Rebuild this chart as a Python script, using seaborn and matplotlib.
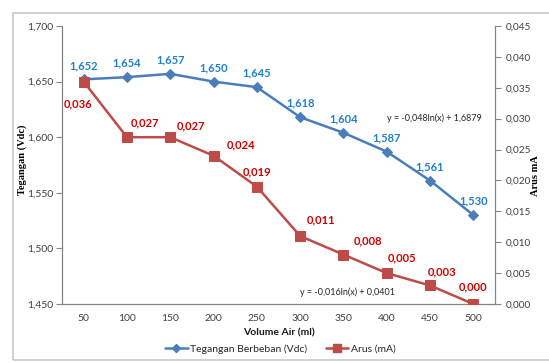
import matplotlib
matplotlib.use("Agg")
import matplotlib.pyplot as plt
import seaborn as sns
import pandas as pd
from matplotlib.ticker import FuncFormatter, FixedLocator
from matplotlib.patches import Rectangle
from matplotlib.lines import Line2D

volume = [50, 100, 150, 200, 250, 300, 350, 400, 450, 500]
tegangan = [1.652, 1.654, 1.657, 1.650, 1.645, 1.618, 1.604, 1.587, 1.561, 1.530]
arus = [0.036, 0.027, 0.027, 0.024, 0.019, 0.011, 0.008, 0.005, 0.003, 0.000]
eq_tegangan = "y = -0,048ln(x) + 1,6879"
eq_arus = "y = -0,016ln(x) + 0,0401"

# label offsets in points (dx, dy)
red_offsets = [(-4, -16), (13, 10), (15, 8), (20, 8), (0, 11), (15, 12), (18, 10), (11, 11), (9, 10), (0, 12)]

df = pd.DataFrame({"volume": volume, "tegangan": tegangan, "arus": arus})

sns.set_style("white")
plt.rcParams['font.family'] = ['Lato', 'DejaVu Sans']

fig = plt.figure(figsize=(5.49, 3.63), dpi=100)
W, H = 549, 363
ax = fig.add_axes([62 / W, 1 - 304 / H, (495 - 62) / W, (304 - 26) / H])
ax2 = ax.twinx()

blue = "#4A7EBB"
red = "#BE4B48"
blue_txt = "#1F7FD0"
red_txt = "#D00000"
tick_c = "#404040"
spine_c = "#868686"

sns.lineplot(data=df, x="volume", y="tegangan", ax=ax, color=blue, marker="D",
             markersize=5, markeredgecolor=blue, linewidth=1.8, legend=False)
sns.lineplot(data=df, x="volume", y="arus", ax=ax2, color=red, marker="s",
             markersize=7, markeredgecolor=red, linewidth=1.8, legend=False)

ax.set_xlim(25, 525)
ax.set_ylim(1.45, 1.70)
ax2.set_ylim(0, 0.045)
ax.set_yticks([1.45, 1.50, 1.55, 1.60, 1.65, 1.70])
ax2.set_yticks([0.000, 0.005, 0.010, 0.015, 0.020, 0.025, 0.030, 0.035, 0.040, 0.045])
ax.yaxis.set_major_formatter(FuncFormatter(lambda v, p: f"{v:.3f}".replace(".", ",")))
ax2.yaxis.set_major_formatter(FuncFormatter(lambda v, p: f"{v:.3f}".replace(".", ",")))

bounds = [v - 25 for v in volume] + [volume[-1] + 25]
ax.xaxis.set_major_locator(FixedLocator(bounds))
ax.xaxis.set_minor_locator(FixedLocator(volume))
ax.set_xticklabels([""] * len(bounds))
ax.set_xticklabels([str(v) for v in volume], minor=True)
ax.tick_params(axis="x", which="major", length=4, width=0.8, color=spine_c, direction="out")
ax.tick_params(axis="x", which="minor", length=0, labelsize=7.5, labelcolor=tick_c, pad=7)
ax.tick_params(axis="y", length=4, width=0.8, color=spine_c, labelsize=7.5, labelcolor=tick_c, pad=2, left=True)
ax2.tick_params(axis="y", length=4, width=0.8, color=spine_c, labelsize=7.2, labelcolor=tick_c, pad=4, right=True)

for a in (ax, ax2):
    a.grid(False)
    a.spines["top"].set_visible(False)
    for s in ("left", "right", "bottom"):
        a.spines[s].set_color(spine_c)
        a.spines[s].set_linewidth(0.9)
ax.spines["right"].set_visible(False)
ax2.spines["left"].set_visible(False)
ax2.spines["bottom"].set_visible(False)

ax.set_xlabel("Volume Air (ml)", fontsize=7.5, fontweight="bold", color="#1a1a1a", labelpad=4)
ax.set_ylabel("")
ax2.set_ylabel("")
fig.text(22 / W, 1 - 160 / H, "Tegangan (Vdc)", rotation=90, ha="center", va="center",
         fontsize=7.5, fontweight="bold", family=["Liberation Serif"], color="#000000")
fig.text(536 / W, 1 - 176 / H, "Arus mA", rotation=90, ha="center", va="center",
         fontsize=7.5, fontweight="bold", family=["Liberation Serif"], color="#000000")

for x, y in zip(volume, tegangan):
    ax.annotate(f"{y:.3f}".replace(".", ","), (x, y), xytext=(0, 10), textcoords="offset points",
                ha="center", va="center", fontsize=8, fontweight="bold", color=blue_txt)
for (x, y), (dx, dy) in zip(zip(volume, arus), red_offsets):
    ax2.annotate(f"{y:.3f}".replace(".", ","), (x, y), xytext=(dx, dy), textcoords="offset points",
                 ha="center", va="center", fontsize=8, fontweight="bold", color=red_txt)

fig.text(434 / W, 1 - 118 / H, eq_tegangan, ha="center", va="center", fontsize=6.5, color="#262626")
fig.text(348 / W, 1 - 292 / H, eq_arus, ha="center", va="center", fontsize=6.5, color="#262626")

handles = [Line2D([], [], color=blue, marker="D", markersize=4, linewidth=1.8),
           Line2D([], [], color=red, marker="s", markersize=6, linewidth=1.8)]
fig.legend(handles, ["Tegangan Berbeban (Vdc)", "Arus (mA)"], loc="center",
           bbox_to_anchor=(280 / W, 1 - 349 / H), ncol=2, frameon=False, fontsize=7.5,
           handlelength=2.2, handletextpad=0.2, columnspacing=1.8, labelcolor="#262626")

fig.patches.append(Rectangle((13 / W, 1 - 360 / H), 1.0, (360 - 13) / H, transform=fig.transFigure,
                             fill=False, edgecolor="#C8C8C8", linewidth=1.2, zorder=-1))

fig.savefig("out.png", dpi=100)
